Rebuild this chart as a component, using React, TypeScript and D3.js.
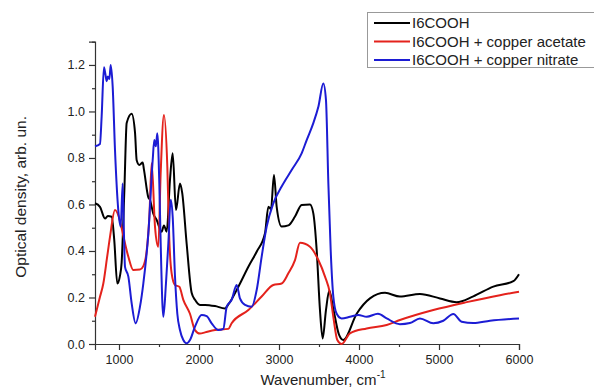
import React, { useEffect, useRef } from 'react';
import * as d3 from 'd3';

// wavenumber (cm-1) / optical density pairs
const blackWn = [700, 762, 825, 860, 908, 940, 979, 1010, 1033, 1067, 1096, 1158, 1200, 1221, 1254, 1296, 1312, 1367, 1387, 1429, 1471, 1533, 1562, 1596, 1637, 1671, 1712, 1762, 1790, 1846, 1908, 1950, 2012, 2075, 2200, 2325, 2367, 2492, 2617, 2721, 2825, 2867, 2900, 2937, 2971, 3033, 3117, 3200, 3283, 3387, 3429, 3471, 3512, 3546, 3587, 3629, 3680, 3750, 3804, 3971, 4137, 4325, 4512, 4762, 5012, 5221, 5429, 5679, 5929, 6000];
const blackOd = [0.605, 0.59, 0.54, 0.55, 0.547, 0.45, 0.26, 0.29, 0.35, 0.66, 0.95, 0.99, 0.91, 0.79, 0.77, 0.78, 0.75, 0.63, 0.62, 0.56, 0.533, 0.483, 0.51, 0.483, 0.705, 0.82, 0.576, 0.69, 0.65, 0.43, 0.22, 0.19, 0.168, 0.168, 0.163, 0.153, 0.17, 0.246, 0.332, 0.397, 0.476, 0.59, 0.58, 0.727, 0.59, 0.505, 0.51, 0.548, 0.598, 0.6, 0.562, 0.404, 0.146, 0.024, 0.146, 0.23, 0.15, 0.04, 0.017, 0.13, 0.196, 0.22, 0.204, 0.215, 0.196, 0.18, 0.205, 0.247, 0.27, 0.3];

const redWn = [700, 760, 804, 850, 887, 950, 1012, 1054, 1117, 1179, 1262, 1304, 1346, 1380, 1408, 1450, 1491, 1521, 1562, 1604, 1629, 1658, 1700, 1754, 1804, 1887, 1950, 2012, 2075, 2200, 2367, 2408, 2617, 2783, 2929, 3033, 3117, 3200, 3262, 3387, 3492, 3575, 3637, 3679, 3729, 3783, 3887, 4096, 4346, 4512, 4929, 5346, 5762, 6000];
const redOd = [0.117, 0.2, 0.26, 0.37, 0.46, 0.576, 0.53, 0.465, 0.375, 0.318, 0.32, 0.335, 0.4, 0.55, 0.777, 0.505, 0.418, 0.735, 0.985, 0.763, 0.447, 0.304, 0.254, 0.246, 0.19, 0.13, 0.06, 0.045, 0.05, 0.06, 0.065, 0.089, 0.146, 0.204, 0.254, 0.26, 0.304, 0.361, 0.435, 0.418, 0.361, 0.29, 0.218, 0.117, 0.017, 0.0, 0.046, 0.067, 0.082, 0.103, 0.146, 0.18, 0.21, 0.225];

const blueWn = [700, 762, 783, 812, 830, 846, 860, 880, 896, 921, 950, 991, 1021, 1046, 1060, 1075, 1117, 1158, 1208, 1262, 1304, 1367, 1421, 1441, 1460, 1479, 1504, 1521, 1554, 1587, 1617, 1646, 1671, 1700, 1729, 1762, 1804, 1846, 1887, 1950, 2033, 2096, 2158, 2242, 2304, 2346, 2408, 2471, 2512, 2575, 2658, 2721, 2783, 2846, 2929, 3033, 3158, 3283, 3346, 3429, 3492, 3554, 3587, 3617, 3646, 3679, 3721, 3783, 3887, 3992, 4096, 4237, 4346, 4512, 4637, 4762, 4929, 5054, 5179, 5283, 5429, 5637, 6000];
const blueOd = [0.85, 0.86, 0.978, 1.19, 1.16, 1.13, 1.15, 1.14, 1.2, 1.107, 0.834, 0.576, 0.505, 0.69, 0.5, 0.332, 0.29, 0.176, 0.089, 0.16, 0.26, 0.476, 0.79, 0.877, 0.85, 0.906, 0.69, 0.433, 0.117, 0.26, 0.433, 0.62, 0.547, 0.29, 0.13, 0.06, 0.017, 0.003, 0.017, 0.075, 0.125, 0.12, 0.089, 0.06, 0.065, 0.16, 0.19, 0.254, 0.196, 0.168, 0.16, 0.232, 0.375, 0.505, 0.605, 0.677, 0.748, 0.82, 0.877, 0.95, 1.02, 1.12, 1.05, 0.69, 0.404, 0.204, 0.13, 0.11, 0.117, 0.125, 0.117, 0.13, 0.11, 0.085, 0.09, 0.11, 0.089, 0.1, 0.129, 0.096, 0.09, 0.1, 0.11];

const seriesNames = ['I6COOH', 'I6COOH + copper acetate', 'I6COOH + copper nitrate'];
const seriesColors = ['#000000', '#e4221c', '#1c1cd4'];

const xMajor = [1000, 2000, 3000, 4000, 5000, 6000];
const xMinor = [1500, 2500, 3500, 4500, 5500];
const yMajor = [0, 0.2, 0.4, 0.6, 0.8, 1.0, 1.2];
const yMinor = [0.1, 0.3, 0.5, 0.7, 0.9, 1.1, 1.3];

const W = 594;
const H = 389;

const App: React.FC = () => {
  const ref = useRef<SVGSVGElement>(null);

  useEffect(() => {
    if (!ref.current) return;
    const svg = d3.select(ref.current);
    svg.selectAll('*').remove();

    const x = d3.scaleLinear().domain([700, 6000]).range([95, 519]);
    const y = d3.scaleLinear().domain([0, 1.3]).range([344, 41.7]);

    const font = 'Arial, "Liberation Sans", sans-serif';

    // axes
    const xAxis = svg.append('g').attr('transform', 'translate(0,344)')
      .call(d3.axisBottom(x).tickValues(xMajor).tickSizeOuter(0).tickSize(6).tickPadding(5).tickFormat(d3.format('d')));
    svg.append('g').attr('transform', 'translate(0,344)')
      .call(d3.axisBottom(x).tickValues(xMinor).tickSizeOuter(0).tickSize(3).tickFormat(() => ''))
      .select('.domain').remove();
    const yAxis = svg.append('g').attr('transform', 'translate(95,0)')
      .call(d3.axisLeft(y).tickValues(yMajor).tickSizeOuter(0).tickSize(6).tickPadding(4).tickFormat(d3.format('.1f')));
    svg.append('g').attr('transform', 'translate(95,0)')
      .call(d3.axisLeft(y).tickValues(yMinor).tickSizeOuter(0).tickSize(3).tickFormat(() => ''))
      .select('.domain').remove();

    [xAxis, yAxis].forEach((g) => {
      g.selectAll('text').attr('font-family', font).attr('font-size', 12.5).attr('fill', '#222');
    });
    svg.selectAll('.domain, .tick line').attr('stroke', '#333').attr('stroke-width', 1.2);

    // curves
    const line = d3.line<[number, number]>()
      .x((d) => x(d[0]))
      .y((d) => y(d[1]))
      .curve(d3.curveMonotoneX);

    const data: [number, number][][] = [
      blackWn.map((w, i) => [w, blackOd[i]]),
      redWn.map((w, i) => [w, redOd[i]]),
      blueWn.map((w, i) => [w, blueOd[i]]),
    ];
    // black first, then red, blue on top
    data.forEach((pts, i) => {
      svg.append('path')
        .datum(pts)
        .attr('fill', 'none')
        .attr('stroke', seriesColors[i])
        .attr('stroke-width', 2)
        .attr('stroke-linejoin', 'round')
        .attr('d', line);
    });

    // axis titles
    svg.append('text')
      .attr('x', x(3500) + 4)
      .attr('y', 385)
      .attr('text-anchor', 'middle')
      .attr('font-family', font)
      .attr('font-size', 15)
      .attr('fill', '#222')
      .text('Wavenumber, cm')
      .append('tspan')
      .attr('dy', -7)
      .attr('font-size', 10)
      .text('-1');

    svg.append('text')
      .attr('transform', `translate(26,${(344 + 41.7) / 2 + 4}) rotate(-90)`)
      .attr('text-anchor', 'middle')
      .attr('font-family', font)
      .attr('font-size', 15.5)
      .attr('fill', '#222')
      .text('Optical density, arb. un.');

    // legend
    const lg = svg.append('g');
    lg.append('rect')
      .attr('x', 367.5).attr('y', 12.5)
      .attr('width', 240).attr('height', 55)
      .attr('fill', '#fff')
      .attr('stroke', '#999');
    seriesNames.forEach((name, i) => {
      const ly = 23 + i * 18.5;
      lg.append('line')
        .attr('x1', 374).attr('x2', 410)
        .attr('y1', ly).attr('y2', ly)
        .attr('stroke', seriesColors[i])
        .attr('stroke-width', 2);
      lg.append('text')
        .attr('x', 412)
        .attr('y', ly + 5)
        .attr('font-family', font)
        .attr('font-size', 15)
        .attr('fill', '#222')
        .text(name);
    });
  }, []);

  return (
    <svg
      ref={ref}
      width={W}
      height={H}
      style={{ position: 'absolute', left: 0, top: 0, background: '#fff' }}
    />
  );
};

export default App;
